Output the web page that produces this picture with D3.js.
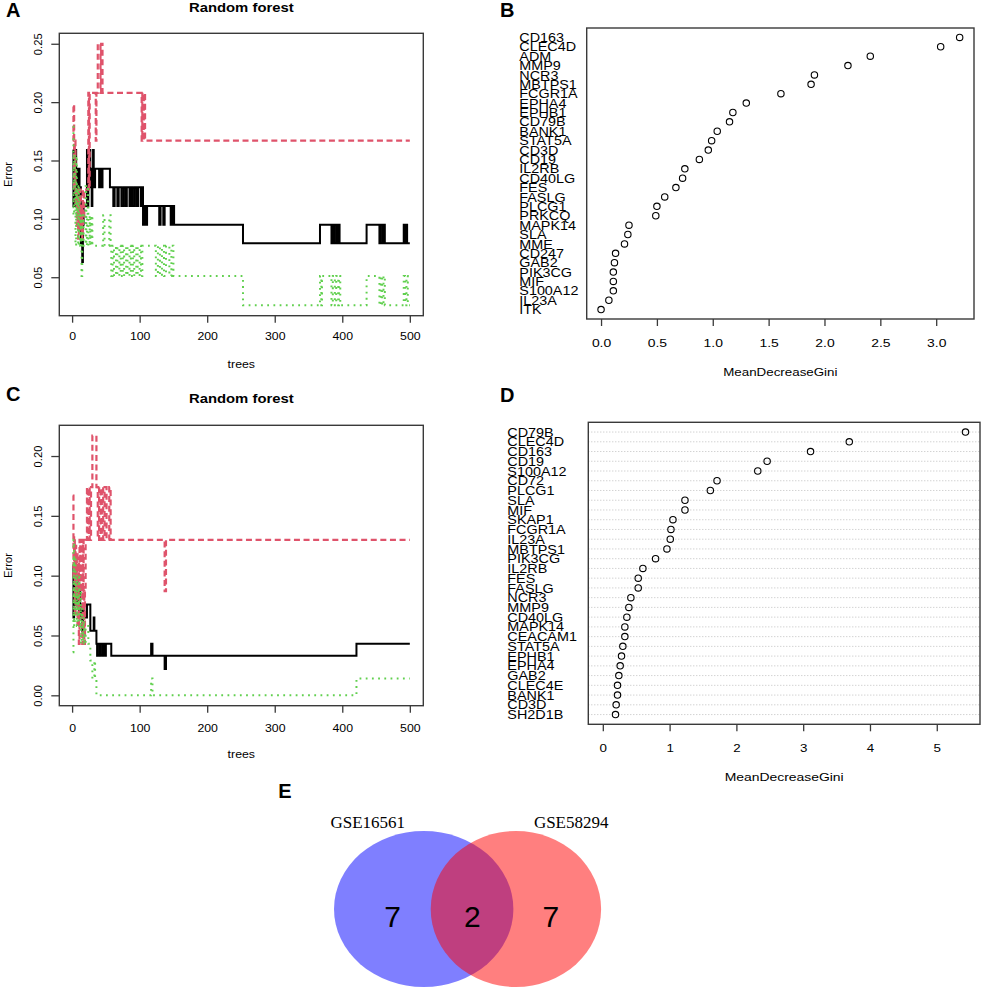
<!DOCTYPE html>
<html>
<head>
<meta charset="utf-8">
<script src="https://cdn.jsdelivr.net/npm/d3@7"></script>
<style>
  body { margin: 0; background: #fff; }
  svg { display: block; }
  text { font-family: "Liberation Sans", Arial, Helvetica, sans-serif; fill: #000; }
</style>
</head>
<body>
<svg id="fig" width="982" height="989"></svg>
<script>
// ---- data ----
const treeTicks = [0, 100, 200, 300, 400, 500];
const errTicksA = [0.05, 0.10, 0.15, 0.20, 0.25];
const errTicksC = [0.00, 0.05, 0.10, 0.15, 0.20];

// OOB error curves, [tree, error] step breakpoints
const errA_OOB = [[1,0.159],[2,0.111],[3,0.143],[4,0.127],[5,0.159],[6,0.111],[7,0.143],[8,0.127],[9,0.111],[10,0.143],[11,0.095],[12,0.127],[13,0.079],[14,0.111],[15,0.063],[16,0.095],[17,0.111],[22,0.159],[23,0.111],[24,0.143],[25,0.127],[26,0.159],[27,0.127],[28,0.143],[29,0.111],[30,0.127],[31,0.159],[32,0.127],[34,0.143],[40,0.127],[42,0.143],[44,0.127],[45,0.143],[56,0.127],[61,0.111],[63,0.127],[67,0.111],[69,0.127],[73,0.111],[76,0.127],[79,0.111],[81,0.127],[85,0.111],[87,0.127],[90,0.111],[93,0.127],[96,0.111],[98,0.127],[102,0.111],[104,0.127],[105,0.095],[107,0.111],[109,0.095],[111,0.111],[129,0.095],[131,0.111],[135,0.095],[137,0.111],[146,0.095],[147,0.111],[149,0.095],[150,0.111],[151,0.095],[253,0.079],[367,0.095],[384,0.079],[385,0.095],[388,0.079],[389,0.095],[392,0.079],[393,0.095],[396,0.079],[436,0.095],[455,0.079],[456,0.095],[459,0.079],[460,0.095],[463,0.079],[491,0.095],[493,0.079],[494,0.095],[496,0.079],[500,0.079]];
const errA_1 = [[1,0.167],[2,0.198],[3,0.125],[4,0.167],[5,0.111],[6,0.125],[7,0.094],[8,0.125],[9,0.083],[10,0.118],[11,0.091],[12,0.125],[13,0.087],[14,0.111],[15,0.083],[16,0.125],[17,0.1],[18,0.125],[24,0.208],[25,0.125],[26,0.208],[35,0.167],[36,0.208],[38,0.25],[42,0.208],[43,0.25],[45,0.208],[103,0.167],[104,0.208],[106,0.167],[107,0.208],[108,0.167],[500,0.167]];
const errA_2 = [[1,0.179],[2,0.103],[3,0.154],[4,0.128],[5,0.077],[6,0.154],[7,0.103],[8,0.128],[9,0.077],[10,0.128],[11,0.103],[12,0.077],[13,0.103],[14,0.051],[15,0.077],[16,0.103],[17,0.077],[20,0.128],[21,0.077],[22,0.103],[23,0.128],[24,0.077],[26,0.103],[27,0.077],[29,0.103],[30,0.077],[46,0.103],[48,0.077],[55,0.103],[57,0.077],[58,0.051],[60,0.077],[62,0.051],[65,0.077],[67,0.051],[70,0.077],[72,0.051],[75,0.077],[77,0.051],[80,0.077],[82,0.051],[85,0.077],[87,0.051],[90,0.077],[92,0.051],[95,0.077],[97,0.051],[100,0.077],[102,0.051],[104,0.077],[124,0.051],[127,0.077],[130,0.051],[133,0.077],[136,0.051],[139,0.077],[144,0.051],[147,0.077],[150,0.051],[253,0.026],[367,0.051],[369,0.026],[370,0.051],[384,0.026],[386,0.051],[389,0.026],[391,0.051],[394,0.026],[395,0.051],[397,0.026],[436,0.051],[455,0.026],[457,0.051],[459,0.026],[461,0.051],[463,0.026],[491,0.051],[493,0.026],[495,0.051],[497,0.026],[500,0.026]];

const errC_OOB = [[1,0.109],[2,0.065],[3,0.098],[4,0.076],[5,0.109],[6,0.087],[7,0.098],[8,0.076],[9,0.087],[10,0.065],[11,0.087],[12,0.076],[13,0.065],[14,0.076],[15,0.054],[16,0.065],[17,0.076],[18,0.065],[22,0.076],[27,0.054],[32,0.065],[33,0.054],[36,0.043],[37,0.033],[38,0.043],[41,0.033],[42,0.043],[45,0.033],[46,0.043],[49,0.033],[50,0.043],[58,0.033],[117,0.043],[119,0.033],[137,0.022],[139,0.033],[421,0.043],[500,0.043]];
const errC_1 = [[1,0.167],[2,0.1],[3,0.133],[4,0.067],[5,0.125],[6,0.083],[7,0.118],[8,0.059],[9,0.111],[10,0.043],[11,0.13],[12,0.087],[13,0.13],[14,0.087],[15,0.043],[16,0.13],[17,0.087],[18,0.043],[19,0.087],[20,0.13],[22,0.174],[23,0.13],[25,0.174],[26,0.13],[28,0.174],[30,0.217],[36,0.174],[38,0.13],[40,0.174],[42,0.13],[44,0.174],[46,0.13],[48,0.174],[51,0.13],[55,0.174],[57,0.13],[137,0.087],[139,0.13],[500,0.13]];
const errC_2 = [[1,0.036],[2,0.13],[3,0.058],[4,0.116],[5,0.072],[6,0.101],[7,0.058],[8,0.087],[9,0.072],[10,0.101],[11,0.058],[12,0.087],[13,0.043],[14,0.072],[15,0.058],[16,0.043],[17,0.065],[18,0.043],[20,0.058],[24,0.043],[27,0.029],[30,0.014],[33,0.029],[34,0.014],[36,0],[117,0.014],[119,0],[421,0.014],[500,0.014]];

// variable importance (MeanDecreaseGini), top row first
const genesB = ["CD163","CLEC4D","ADM","MMP9","NCR3","MBTPS1","FCGR1A","EPHA4","EPHB1","CD79B","BANK1","STAT5A","CD3D","CD19","IL2RB","CD40LG","FES","FASLG","PLCG1","PRKCQ","MAPK14","SLA","MME","CD247","GAB2","PIK3CG","MIF","S100A12","IL23A","ITK"];
const giniB = [3.21,3.04,2.41,2.21,1.91,1.88,1.61,1.30,1.18,1.15,1.04,0.99,0.96,0.88,0.75,0.73,0.67,0.57,0.50,0.49,0.25,0.24,0.21,0.13,0.12,0.11,0.11,0.11,0.07,0.00];
const giniTicksB = [0, 0.5, 1, 1.5, 2, 2.5, 3];

const genesD = ["CD79B","CLEC4D","CD163","CD19","S100A12","CD72","PLCG1","SLA","MIF","SKAP1","FCGR1A","IL23A","MBTPS1","PIK3CG","IL2RB","FES","FASLG","NCR3","MMP9","CD40LG","MAPK14","CEACAM1","STAT5A","EPHB1","EPHA4","GAB2","CLEC4E","BANK1","CD3D","SH2D1B"];
const giniD = [5.43,3.69,3.11,2.46,2.32,1.71,1.61,1.23,1.23,1.05,1.02,1.01,0.96,0.79,0.60,0.53,0.53,0.42,0.39,0.36,0.33,0.33,0.30,0.28,0.26,0.24,0.22,0.22,0.20,0.19];
const giniTicksD = [0, 1, 2, 3, 4, 5];

const vennSets = ["GSE16561", "GSE58294"];
const vennCounts = [7, 2, 7];

// ---- drawing ----
const svg = d3.select("#fig");
const SANS = '"Liberation Sans", Arial, Helvetica, sans-serif';
const BOX = "#3a3a3a";

function label(g, x, y, s, o = {}) {
    let tf = `translate(${x},${y}) scale(${o.sx || 1},1)`;
    if (o.rot) tf += ` rotate(${o.rot})`;
    return g.append("text")
        .attr("transform", tf)
        .attr("text-anchor", o.anchor || "start")
        .style("font-size", `${o.size || 11.2}px`)
        .style("font-weight", o.bold ? "bold" : "normal")
        .style("font-family", o.family || SANS)
        .text(s);
}

// R style limits: data range padded by 4%
function rRange(lo, hi) {
    const p = (hi - lo) * 0.04;
    return [lo - p, hi + p];
}

function frame(g, b) {
    g.append("rect")
        .attr("x", b.left).attr("y", b.top)
        .attr("width", b.right - b.left).attr("height", b.bottom - b.top)
        .attr("fill", "none").attr("stroke", BOX).attr("stroke-width", 1.4);
}

function styleAxis(ax) {
    ax.select(".domain").remove();
    ax.selectAll(".tick line").attr("stroke", BOX).attr("stroke-width", 1.3);
    ax.selectAll("text").style("font-family", SANS).attr("fill", "#000");
}

function errorPanel(b, series, yTicks, letter, letterY, titleY, tickY, xlabY) {
    const g = svg.append("g");
    const allErr = series.flatMap(s => s.data.map(d => d[1]));
    const x = d3.scaleLinear().domain(rRange(1, 500)).range([b.left, b.right]);
    const y = d3.scaleLinear().domain(rRange(d3.min(allErr), d3.max(allErr)))
        .range([b.bottom, b.top]);

    const line = d3.line()
        .x(d => x(d[0])).y(d => y(d[1]))
        .curve(d3.curveStepAfter);

    series.forEach(s => {
        g.append("path")
            .attr("d", line(s.data))
            .attr("fill", "none")
            .attr("stroke", s.color)
            .attr("stroke-width", s.width)
            .attr("stroke-dasharray", s.dash)
            .attr("stroke-linejoin", "miter");
    });

    frame(g, b);

    const ax = g.append("g")
        .attr("transform", `translate(0,${b.bottom})`)
        .call(d3.axisBottom(x).tickValues(treeTicks).tickSize(7).tickSizeOuter(0));
    styleAxis(ax);
    ax.selectAll("text")
        .attr("y", null).attr("dy", null)
        .attr("transform", `translate(0,${tickY - b.bottom}) scale(1.1,1)`)
        .style("font-size", "11.2px");

    const ay = g.append("g")
        .attr("transform", `translate(${b.left},0)`)
        .call(d3.axisLeft(y).tickValues(yTicks).tickFormat(d3.format(".2f"))
            .tickSize(8).tickSizeOuter(0));
    styleAxis(ay);
    ay.selectAll("text")
        .attr("x", 0).attr("dy", null)
        .attr("y", -(b.left - 41.5))
        .attr("text-anchor", "middle")
        .attr("transform", "rotate(-90)")
        .style("font-size", "11.2px");

    const cx = (b.left + b.right) / 2;
    label(g, cx, titleY, "Random forest", { anchor: "middle", bold: true, size: 13.5, sx: 1.1 });
    label(g, cx, xlabY, "trees", { anchor: "middle", sx: 1.1 });
    label(g, 11.5, (b.top + b.bottom) / 2, "Error", { anchor: "middle", rot: -90 });
    label(g, 6, letterY, letter, { bold: true, size: 20 });
}

function dotPanel(b, genes, gini, ticks, o) {
    const g = svg.append("g");
    const n = genes.length;
    const x = d3.scaleLinear().domain(rRange(0, d3.max(gini))).range([b.left, b.right]);
    const y = d3.scaleLinear().domain([0, n + 1]).range([b.bottom, b.top]);

    if (o.guides) {
        g.selectAll("line.guide").data(genes).join("line")
            .attr("class", "guide")
            .attr("x1", b.left).attr("x2", b.right)
            .attr("y1", (d, i) => y(n - i)).attr("y2", (d, i) => y(n - i))
            .attr("stroke", "#b0b0b0").attr("stroke-width", 0.8)
            .attr("stroke-dasharray", "1,2");
    }

    g.selectAll("circle").data(gini).join("circle")
        .attr("cx", d => x(d))
        .attr("cy", (d, i) => y(n - i))
        .attr("r", 3.2)
        .attr("fill", "none").attr("stroke", "#000").attr("stroke-width", 1.1);

    genes.forEach((s, i) => {
        label(g, o.nameX, y(n - i) + 4.6, s, { size: o.nameSize, sx: o.nameSx });
    });

    frame(g, b);

    const ax = g.append("g")
        .attr("transform", `translate(0,${b.bottom})`)
        .call(d3.axisBottom(x).tickValues(ticks).tickFormat(o.fmt).tickSize(7).tickSizeOuter(0));
    styleAxis(ax);
    ax.selectAll("text")
        .attr("y", null).attr("dy", null)
        .attr("transform", `translate(0,${o.tickY - b.bottom}) scale(${o.tickSx},1)`)
        .style("font-size", "11.6px");

    label(g, (b.left + b.right) / 2, o.xlabY, "MeanDecreaseGini",
        { anchor: "middle", size: 11.6, sx: o.xlabSx });
    label(g, 500, o.letterY, o.letter, { bold: true, size: 20 });
}

const lineStyles = [
    { color: "#000000", width: 2, dash: null },
    { color: "#DF536B", width: 2.2, dash: "6,3.6" },
    { color: "#61D04F", width: 2, dash: "1.8,4.4" }
];

errorPanel({ left: 59.3, right: 423.3, top: 33.3, bottom: 315.7 },
    [errA_OOB, errA_1, errA_2].map((d, i) => ({ data: d, ...lineStyles[i] })),
    errTicksA, "A", 17, 11.7, 340, 368);

errorPanel({ left: 59.3, right: 423.3, top: 425.3, bottom: 705.7 },
    [errC_OOB, errC_1, errC_2].map((d, i) => ({ data: d, ...lineStyles[i] })),
    errTicksC, "C", 400.7, 402.7, 731.7, 758);

dotPanel({ left: 586.7, right: 974, top: 28, bottom: 319 }, genesB, giniB, giniTicksB, {
    guides: false, fmt: d3.format(".1f"), nameX: 519.3, nameSize: 12.5, nameSx: 1.15,
    tickY: 346.7, tickSx: 1.2, xlabY: 376, xlabSx: 1.15, letter: "B", letterY: 17
});

dotPanel({ left: 588.3, right: 980, top: 422.3, bottom: 724.3 }, genesD, giniD, giniTicksD, {
    guides: true, fmt: d3.format("d"), nameX: 507.3, nameSize: 12, nameSx: 1.2,
    tickY: 751.7, tickSx: 1.15, xlabY: 781, xlabSx: 1.2, letter: "D", letterY: 401.7
});

// ---- Venn (E) ----
const venn = svg.append("g");
const circles = [
    { cx: 423.7, cy: 909, rx: 89.7, ry: 78, fill: "rgba(0,0,255,0.5)" },
    { cx: 515.9, cy: 909, rx: 85.2, ry: 78, fill: "rgba(255,0,0,0.5)" }
];
venn.selectAll("ellipse").data(circles).join("ellipse")
    .attr("cx", d => d.cx).attr("cy", d => d.cy)
    .attr("rx", d => d.rx).attr("ry", d => d.ry)
    .attr("fill", d => d.fill);

const setLabelX = [367.8, 571.2];
vennSets.forEach((s, i) => {
    label(venn, setLabelX[i], 828.3, s, {
        anchor: "middle", size: 17, family: '"Liberation Serif", "Times New Roman", serif'
    });
});
const countX = [392.5, 472.3, 550.8];
vennCounts.forEach((c, i) => {
    label(venn, countX[i], 926.7, String(c), { anchor: "middle", size: 30 });
});
label(venn, 278.3, 798.3, "E", { bold: true, size: 20 });
</script>
</body>
</html>
